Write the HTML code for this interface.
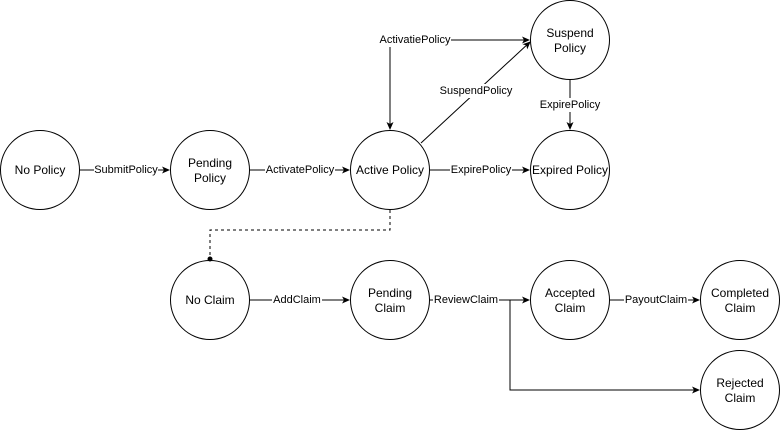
<!DOCTYPE html>
<html><head><style>body{margin:0;background:#fff}</style></head><body>
<svg width="781" height="431" xmlns="http://www.w3.org/2000/svg" font-family="Liberation Sans, Arial, sans-serif">
<defs><marker id="a" markerWidth="8" markerHeight="8" refX="7" refY="4" orient="auto" markerUnits="userSpaceOnUse"><path d="M0,0.5 L8,4 L0,7.5 L2,4 Z" fill="#000"/></marker></defs>
<g fill="#fff" stroke="#000" stroke-width="1">
<circle cx="40" cy="170" r="39.5"/><circle cx="210" cy="170" r="39.5"/><circle cx="390" cy="170" r="39.5"/>
<circle cx="570" cy="170" r="39.5"/><circle cx="570" cy="40" r="39.5"/>
<circle cx="210" cy="300" r="39.5"/><circle cx="390" cy="300" r="39.5"/><circle cx="570" cy="300" r="39.5"/>
<circle cx="740" cy="300" r="39.5"/><circle cx="740" cy="390" r="39.5"/>
</g>
<g stroke="#000" fill="none">
<path d="M80,170 H169" marker-end="url(#a)"/>
<path d="M250,170 H349" marker-end="url(#a)"/>
<path d="M430,170 H529" marker-end="url(#a)"/>
<path d="M390,40 H529" marker-end="url(#a)"/>
<path d="M390,40 V129" marker-end="url(#a)"/>
<path d="M421,143 L530,42" marker-end="url(#a)"/>
<path d="M570,80 V129" marker-end="url(#a)"/>
<path d="M390,210 V230 H210 V258" stroke-dasharray="3,3"/>
<path d="M250,300 H349" marker-end="url(#a)"/>
<path d="M430,300 H529" marker-end="url(#a)"/>
<path d="M510,300 V390 H699" marker-end="url(#a)"/>
<path d="M610,300 H699" marker-end="url(#a)"/>
</g>
<circle cx="210" cy="259" r="2.5" fill="#000"/>
<g font-size="11" text-anchor="middle" dominant-baseline="central">
<rect x="94" y="163" width="64" height="14" fill="#fff"/><text x="126" y="170">SubmitPolicy</text>
<rect x="265" y="163" width="70" height="14" fill="#fff"/><text x="300" y="170">ActivatePolicy</text>
<rect x="450" y="163" width="62" height="14" fill="#fff"/><text x="481" y="170">ExpirePolicy</text>
<rect x="379" y="33" width="72" height="14" fill="#fff"/><text x="415" y="40">ActivatiePolicy</text>
<rect x="438" y="84" width="76" height="14" fill="#fff"/><text x="476" y="91">SuspendPolicy</text>
<rect x="539" y="98" width="62" height="14" fill="#fff"/><text x="570" y="105">ExpirePolicy</text>
<rect x="272" y="293" width="50" height="14" fill="#fff"/><text x="297" y="300">AddClaim</text>
<rect x="433" y="293" width="66" height="14" fill="#fff"/><text x="466" y="300">ReviewClaim</text>
<rect x="624" y="293" width="64" height="14" fill="#fff"/><text x="656" y="300">PayoutClaim</text>
</g>
<g font-size="12" text-anchor="middle" dominant-baseline="central">
<text x="40" y="170">No Policy</text>
<text x="210" y="163">Pending</text><text x="210" y="178">Policy</text>
<text x="390" y="170">Active Policy</text>
<text x="570" y="170">Expired Policy</text>
<text x="570" y="33">Suspend</text><text x="570" y="48">Policy</text>
<text x="210" y="300">No Claim</text>
<text x="390" y="293">Pending</text><text x="390" y="308">Claim</text>
<text x="570" y="293">Accepted</text><text x="570" y="308">Claim</text>
<text x="740" y="293">Completed</text><text x="740" y="308">Claim</text>
<text x="740" y="383">Rejected</text><text x="740" y="398">Claim</text>
</g>
</svg>
</body></html>
